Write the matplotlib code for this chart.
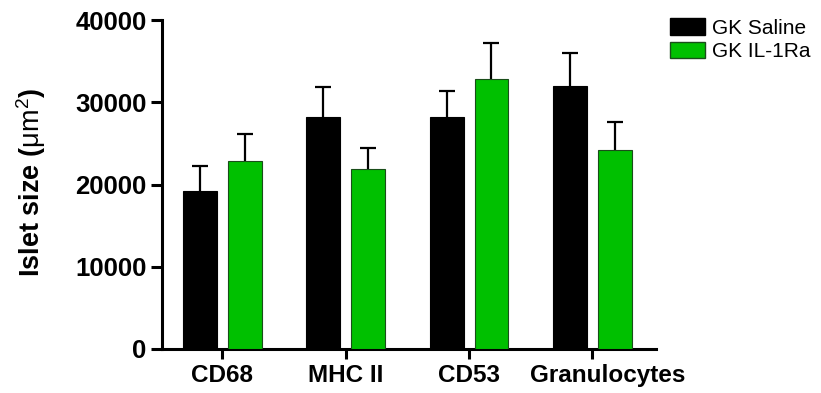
import numpy as np
import matplotlib.pyplot as plt
import matplotlib.transforms as mtransforms
from matplotlib.patches import Patch

plt.rcParams['font.family'] = ['Liberation Sans', 'DejaVu Sans']
plt.rcParams['mathtext.fontset'] = 'custom'
plt.rcParams['mathtext.rm'] = 'Liberation Sans'
plt.rcParams['mathtext.it'] = 'Liberation Sans'

categories = ["CD68", "MHC II", "CD53", "Granulocytes"]
saline = [19250, 28170, 28170, 31980]
saline_err = [3040, 3720, 3230, 4050]
il1ra = [22900, 21880, 32830, 24160]
il1ra_err = [3240, 2520, 4340, 3400]

fig = plt.figure(figsize=(8.21, 3.93), dpi=100)
ax = fig.add_axes([0.197, 0.112, 0.602, 0.837])

x = np.arange(len(categories))
off = 0.182
w = 0.275
green = "#00c000"

ax.bar(x - off, saline, w, color="black", edgecolor="black", linewidth=0.8, zorder=3)
ax.bar(x + off, il1ra, w, color=green, edgecolor="#1a4d1a", linewidth=0.8, zorder=3)
for xs, vals, errs in [(x - off, saline, saline_err), (x + off, il1ra, il1ra_err)]:
    eb = ax.errorbar(xs, vals, yerr=[np.zeros(4), errs], fmt="none",
                     ecolor="black", elinewidth=1.6, capsize=5.5, capthick=1.6, zorder=2)
    # hide the lower caps (sit on the bar tops)
    eb[1][0].set_visible(False)

ax.set_xlim(-0.49, 3.515)
ax.set_ylim(0, 40000)
ax.set_yticks([0, 10000, 20000, 30000, 40000])
ax.set_xticks(x)
ax.set_xticklabels(categories, fontsize=17.5, fontweight="bold")
for t in ax.get_yticklabels():
    t.set_fontsize(18.5)
    t.set_fontweight("bold")

for s in ["top", "right"]:
    ax.spines[s].set_visible(False)
for s in ["left", "bottom"]:
    ax.spines[s].set_linewidth(2.2)
ax.tick_params(axis="y", length=8, width=2.2, pad=3)
ax.tick_params(axis="x", length=7, width=2.2, pad=4)

# the last label sits a bit right of its tick in the original
lab = ax.get_xticklabels()[-1]
lab.set_transform(lab.get_transform() + mtransforms.ScaledTranslation(15 / 100, 0, fig.dpi_scale_trans))

ax.set_ylabel("Islet size ($\\mathrm{\\mu m^2}$)", fontsize=19.5, fontweight="bold")
ax.yaxis.set_label_coords(-0.231, 0.505)

handles = [Patch(facecolor="black", edgecolor="black", label="GK Saline"),
           Patch(facecolor=green, edgecolor="#1a4d1a", label="GK IL-1Ra")]
fig.legend(handles=handles, loc="upper left", bbox_to_anchor=(0.806, 0.975),
           frameon=False, fontsize=15, handlelength=1.7, handleheight=0.85,
           handletextpad=0.3, labelspacing=0.2, borderaxespad=0)

fig.savefig("out.png", dpi=100)
